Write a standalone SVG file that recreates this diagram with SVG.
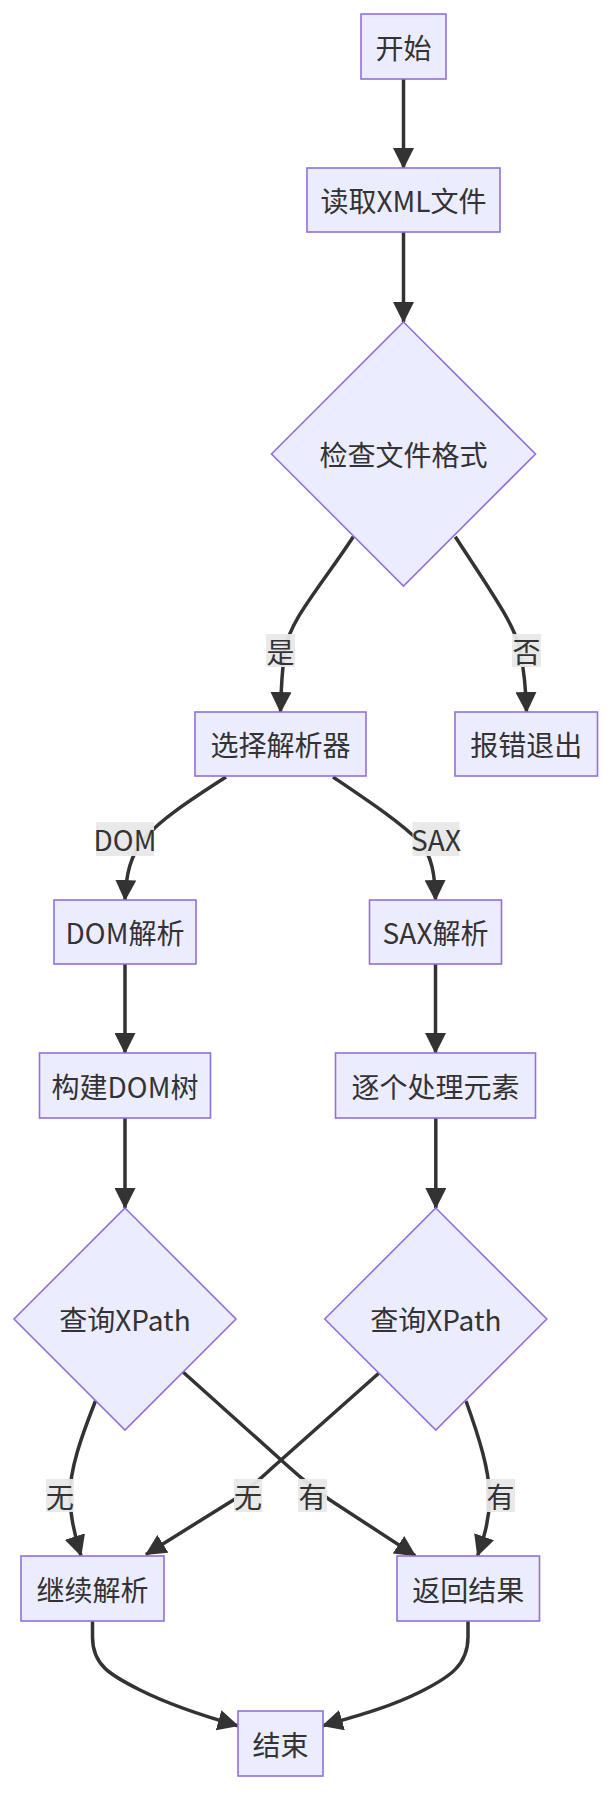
<svg xmlns="http://www.w3.org/2000/svg" width="612" height="1800" viewBox="0 0 612 1800">
<defs>
<marker id="arr" markerUnits="userSpaceOnUse" markerWidth="21" markerHeight="21" viewBox="0 0 10 10" refX="9.5" refY="5" orient="auto">
<path d="M0,0 L10,5 L0,10 z" fill="#333"/>
</marker>
<style>
.n{fill:#ECECFF;stroke:#9370DB;stroke-width:1.6}
.t{font-family:"Noto Sans CJK SC","Noto Sans",sans-serif;font-size:28px;fill:#333;text-anchor:middle;dominant-baseline:central}
.e{fill:none;stroke:#333;stroke-width:3.5;marker-end:url(#arr)}
.lb{fill:#e8e8e8;opacity:0.95}
</style>
</defs>
<rect width="612" height="1800" fill="#fff"/>
<g id="edges">
<path class="e" d="M403.5,79 L403.5,168"/>
<path class="e" d="M403.5,232 L403.5,322"/>
<path class="e" d="M353.3,536.7 C 318,590 290,620 285,650 C 282,670 281,690 280.5,712"/>
<path class="e" d="M455.3,536.7 C 490,590 515,625 520,650 C 524,670 526,690 526.5,712"/>
<path class="e" d="M226,777 C 190,800 160,820 145,838 C 130,855 126,875 125,900"/>
<path class="e" d="M333,777 C 370,802 400,822 420,842 C 432,856 435,875 435.5,900"/>
<path class="e" d="M125,964 L125,1053"/>
<path class="e" d="M435.5,964 L435.5,1053"/>
<path class="e" d="M125,1118 L125,1208"/>
<path class="e" d="M435.8,1118 L435.8,1208"/>
<path class="e" d="M95.5,1401 C 80,1440 70,1470 70,1495 C 70,1520 76,1540 81,1555.6"/>
<path class="e" d="M183,1372 L 290,1468 Q 310,1486 330,1500 L 415.2,1555.6"/>
<path class="e" d="M379,1373 L 272,1468 Q 255,1484 235,1499 L 146,1554.4"/>
<path class="e" d="M466,1401 C 480,1440 489,1470 489.5,1495 C 490,1520 483,1540 477.6,1555.6"/>
<path class="e" d="M92.5,1621 L92.5,1637 C 92.5,1665 110,1675 140,1690 C 170,1705 200,1715 237.8,1725.7"/>
<path class="e" d="M468,1621 L468,1637 C 468,1665 450,1677 420,1692 C 390,1707 360,1715 322.8,1725.7"/>
</g>
<g id="edge-labels">
<rect class="lb" x="266" y="634" width="29" height="33"/><text class="t" x="280.5" y="650.5">是</text>
<rect class="lb" x="512" y="634" width="29" height="33"/><text class="t" x="526.5" y="650.5">否</text>
<rect class="lb" x="96" y="822" width="58" height="34"/><text class="t" x="125" y="839">DOM</text>
<rect class="lb" x="412.5" y="822" width="47" height="34"/><text class="t" x="436" y="839">SAX</text>
<rect class="lb" x="46" y="1479" width="28" height="33"/><text class="t" x="60" y="1495.5">无</text>
<rect class="lb" x="234" y="1479" width="28" height="33"/><text class="t" x="248" y="1495.5">无</text>
<rect class="lb" x="298" y="1479" width="29" height="33"/><text class="t" x="312.5" y="1495.5">有</text>
<rect class="lb" x="486" y="1479" width="29" height="33"/><text class="t" x="500.5" y="1495.5">有</text>
</g>
<g id="start"><rect class="n" x="361" y="14" width="85" height="65"/><text class="t" x="403.5" y="46.5">开始</text></g>
<g id="read"><rect class="n" x="307" y="168" width="193" height="64"/><text class="t" x="403.5" y="200">读取XML文件</text></g>
<g id="check"><polygon class="n" points="403.5,322 535.5,454 403.5,586 271.5,454"/><text class="t" x="403.5" y="454">检查文件格式</text></g>
<g id="choose"><rect class="n" x="195" y="712" width="171" height="64"/><text class="t" x="280.5" y="744">选择解析器</text></g>
<g id="error"><rect class="n" x="455" y="712" width="142.5" height="64"/><text class="t" x="526.3" y="744">报错退出</text></g>
<g id="dom"><rect class="n" x="54" y="900" width="142" height="64"/><text class="t" x="125" y="932">DOM解析</text></g>
<g id="sax"><rect class="n" x="369.5" y="900" width="132" height="64"/><text class="t" x="435.5" y="932">SAX解析</text></g>
<g id="build"><rect class="n" x="39.5" y="1053" width="171" height="65"/><text class="t" x="125" y="1085.5">构建DOM树</text></g>
<g id="each"><rect class="n" x="335.5" y="1053" width="200" height="65"/><text class="t" x="435.5" y="1085.5">逐个处理元素</text></g>
<g id="q1"><polygon class="n" points="125,1208 236,1319 125,1430 14,1319"/><text class="t" x="125" y="1319">查询XPath</text></g>
<g id="q2"><polygon class="n" points="435.8,1208 546.8,1319 435.8,1430 324.8,1319"/><text class="t" x="435.8" y="1319">查询XPath</text></g>
<g id="cont"><rect class="n" x="21" y="1556" width="143" height="65"/><text class="t" x="92.5" y="1588.5">继续解析</text></g>
<g id="ret"><rect class="n" x="397" y="1556" width="142.5" height="65"/><text class="t" x="468.3" y="1588.5">返回结果</text></g>
<g id="end"><rect class="n" x="238" y="1711" width="85" height="65"/><text class="t" x="280.5" y="1743.5">结束</text></g>
</svg>
